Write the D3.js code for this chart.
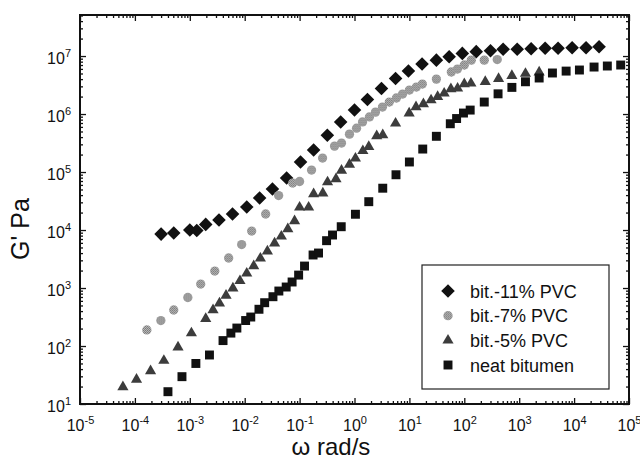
<!DOCTYPE html>
<meta charset="utf-8">
<style>
body { margin: 0; background: #fff; }
text { font-family: "Liberation Sans", Arial, sans-serif; fill: #111; }
</style>
<body>
<script src="https://d3js.org/d3.v7.min.js"></script>
<div id="chart"></div>
<script>

// bit.-11% PVC
var pvc11W = [3.0e-4, 5.1e-4, 1.0e-3, 1.34e-3, 1.95e-3, 3.4e-3, 6.0e-3, 1.09e-2, 1.87e-2, 3.2e-2, 5.8e-2, 0.104, 0.18, 0.32, 0.56, 1.0, 1.72, 3.1, 5.6, 9.6, 17, 31, 53, 92, 165, 300, 510, 920, 1650, 2970, 5100, 9200, 16500, 28500];
var pvc11G = [8.5e3, 8.9e3, 1.0e4, 9.8e3, 1.25e4, 1.49e4, 1.89e4, 2.5e4, 3.57e4, 5.1e4, 7.9e4, 1.49e5, 2.4e5, 4.3e5, 7.3e5, 1.17e6, 1.78e6, 2.75e6, 4.1e6, 5.5e6, 7.3e6, 8.5e6, 9.7e6, 1.11e7, 1.19e7, 1.23e7, 1.31e7, 1.31e7, 1.34e7, 1.36e7, 1.36e7, 1.39e7, 1.39e7, 1.45e7];

// bit.-7% PVC
var pvc7W = [1.65e-4, 2.97e-4, 5.1e-4, 9.2e-4, 1.58e-3, 2.85e-3, 5.1e-3, 8.8e-3, 1.34e-2, 2.41e-2, 4.15e-2, 7.5e-2, 0.1, 0.165, 0.262, 0.433, 0.58, 0.81, 1.09, 1.4, 1.87, 2.41, 3.23, 4.3, 5.8, 7.5, 10, 13.4, 17.2, 31, 58, 75, 100, 134, 231, 398];
var pvc7G = [189, 275, 418, 686, 1170, 1960, 3290, 5620, 9600, 1.89e4, 3.93e4, 6.46e4, 6.86e4, 1.08e5, 1.74e5, 2.8e5, 3.16e5, 4.5e5, 5.7e5, 7.3e5, 8.9e5, 1.08e6, 1.32e6, 1.61e6, 1.89e6, 2.21e6, 2.59e6, 2.92e6, 3.29e6, 4.0e6, 5.3e6, 5.97e6, 7.0e6, 8.5e6, 8.5e6, 8.7e6];

// bit.-5% PVC
var pvc5W = [6.05e-5, 1.07e-4, 1.93e-4, 3.37e-4, 6.1e-4, 1.07e-3, 1.95e-3, 2.65e-3, 3.47e-3, 4.57e-3, 6.1e-3, 8.2e-3, 1.09e-2, 1.46e-2, 1.93e-2, 2.59e-2, 3.5e-2, 4.65e-2, 6.1e-2, 8.1e-2, 0.1, 0.146, 0.18, 0.265, 0.323, 0.46, 0.58, 0.81, 1.04, 1.42, 1.82, 2.54, 3.27, 5.6, 9.9, 13.2, 18, 24.8, 32.7, 43, 57, 75.5, 100, 132, 241, 421, 736, 1300, 2310];
var pvc5G = [19.6, 26.4, 37, 56, 95, 167, 296, 418, 545, 743, 989, 1330, 1790, 2390, 3250, 4300, 5900, 7780, 1.04e4, 1.43e4, 2.46e4, 2.46e4, 4.18e4, 4.3e4, 6.7e4, 7.6e4, 1.06e5, 1.35e5, 1.72e5, 2.32e5, 2.73e5, 4.18e5, 4.34e5, 6.9e5, 1.03e6, 1.32e6, 1.49e6, 1.74e6, 1.99e6, 2.27e6, 2.7e6, 2.77e6, 3.29e6, 3.38e6, 3.6e6, 4.05e6, 4.56e6, 4.98e6, 5.26e6];

// neat bitumen
var neatW = [4.0e-4, 7.2e-4, 1.29e-3, 2.28e-3, 4.03e-3, 5.6e-3, 7.2e-3, 1.04e-2, 1.29e-2, 1.82e-2, 2.31e-2, 3.27e-2, 4.19e-2, 5.7e-2, 7.3e-2, 9.6e-2, 0.123, 0.176, 0.221, 0.31, 0.398, 0.573, 1.04, 1.82, 3.27, 5.7, 10, 17.5, 31, 55.6, 72.4, 96.6, 128, 231, 412, 736, 1300, 2310, 4030, 7160, 12500, 23100, 40300, 70600];
var neatG = [16.3, 29.6, 50, 70, 124, 167, 204, 275, 316, 430, 558, 708, 887, 1040, 1270, 1670, 2390, 3710, 4010, 6550, 8200, 1.14e4, 1.87e4, 3.08e4, 5.26e4, 8.97e4, 1.49e5, 2.49e5, 4.13e5, 6.8e5, 8.36e5, 1.04e6, 1.17e6, 1.61e6, 2.23e6, 2.88e6, 3.6e6, 4.18e6, 5.1e6, 5.5e6, 5.74e6, 6.46e6, 6.73e6, 7.0e6];

var seriesNames = ["bit.-11% PVC", "bit.-7% PVC", "bit.-5% PVC", "neat bitumen"];
var xDecades = [-5, -4, -3, -2, -1, 0, 1, 2, 3, 4, 5];
var yDecades = [1, 2, 3, 4, 5, 6, 7];

var margin = {top: 15, right: 11, bottom: 57, left: 80},
    width = 640 - margin.left - margin.right,
    height = 461 - margin.top - margin.bottom;

var x = d3.scaleLog().domain([1e-5, 1e5]).range([0, width]);
var y = d3.scaleLog().domain([10, 5.1e7]).range([height, 0]);

var svg = d3.select("#chart").append("svg")
    .attr("width", 640)
    .attr("height", 461);

// halftone look of the grey circles
var defs = svg.append("defs");
var pat = defs.append("pattern")
    .attr("id", "dots")
    .attr("width", 2).attr("height", 2)
    .attr("patternUnits", "userSpaceOnUse");
pat.append("rect").attr("width", 2).attr("height", 2).attr("fill", "#c4c4c4");
pat.append("rect").attr("width", 1).attr("height", 1).attr("fill", "#6a6a6a");
pat.append("rect").attr("x", 1).attr("y", 1).attr("width", 1).attr("height", 1).attr("fill", "#7a7a7a");

var g = svg.append("g").attr("transform", "translate(" + margin.left + "," + margin.top + ")");

// minor tick values
function minors(lo, hi) {
  var out = [];
  for (var e = lo; e < hi; e++) {
    for (var m = 2; m <= 9; m++) out.push(m * Math.pow(10, e));
  }
  return out;
}
var xMinor = minors(-5, 5);
var yMinor = minors(1, 8).filter(function(v) { return v <= 5.1e7; });
var xMajor = xDecades.map(function(e) { return Math.pow(10, e); });
var yMajor = yDecades.map(function(e) { return Math.pow(10, e); });

function drawTicks(axisFn, scale, vals, size, transform) {
  var a = g.append("g").attr("transform", transform)
    .call(axisFn(scale).tickValues(vals).tickSizeInner(-size).tickSizeOuter(0)
      .tickPadding(8).tickFormat(""));
  a.select(".domain").remove();
  a.selectAll("line").attr("stroke", "#111").attr("stroke-width", 1.3);
  return a;
}

drawTicks(d3.axisBottom, x, xMinor, 3, "translate(0," + height + ")");
drawTicks(d3.axisTop, x, xMinor, 3, "translate(0,0)");
drawTicks(d3.axisLeft, y, yMinor, 3, "translate(0,0)");
drawTicks(d3.axisRight, y, yMinor, 3, "translate(" + width + ",0)");
var xb = drawTicks(d3.axisBottom, x, xMajor, 6, "translate(0," + height + ")");
drawTicks(d3.axisTop, x, xMajor, 6, "translate(0,0)");
var yl = drawTicks(d3.axisLeft, y, yMajor, 6, "translate(0,0)");
drawTicks(d3.axisRight, y, yMajor, 6, "translate(" + width + ",0)");

// tick labels 10^n
xb.selectAll(".tick").each(function(d, i) {
  var t = d3.select(this).append("text")
    .attr("y", 27).attr("text-anchor", "middle")
    .style("font-size", "16px");
  t.append("tspan").text("10");
  t.append("tspan").attr("dy", -7).style("font-size", "11px").text(xDecades[i]);
});
yl.selectAll(".tick").each(function(d, i) {
  var t = d3.select(this).append("text")
    .attr("x", -9).attr("y", 7).attr("text-anchor", "end")
    .style("font-size", "16px");
  t.append("tspan").text("10");
  t.append("tspan").attr("dy", -7).style("font-size", "11px").text(yDecades[i]);
});

// frame
g.append("rect")
  .attr("width", width).attr("height", height)
  .attr("fill", "none").attr("stroke", "#111").attr("stroke-width", 2);

// axis titles
svg.append("text")
  .attr("x", 331).attr("y", 455)
  .attr("text-anchor", "middle").style("font-size", "24px")
  .text("ω rad/s");
svg.append("text")
  .attr("transform", "translate(29,229) rotate(-90)")
  .attr("text-anchor", "middle").style("font-size", "25px")
  .text("G' Pa");

var series = [
  {w: pvc11W, G: pvc11G, type: "diamond", fill: "#111"},
  {w: pvc7W, G: pvc7G, type: "circle", fill: "url(#dots)"},
  {w: pvc5W, G: pvc5G, type: "triangle", fill: "#3c3c3c"},
  {w: neatW, G: neatG, type: "square", fill: "#111"}
];

function symPath(type) {
  if (type === "diamond") return d3.symbol().type(d3.symbolSquare).size(92)();
  if (type === "circle") return d3.symbol().type(d3.symbolCircle).size(68)();
  if (type === "triangle") return d3.symbol().type(d3.symbolTriangle).size(54)();
  return d3.symbol().type(d3.symbolSquare).size(80)();
}
function symRot(type) { return type === "diamond" ? " rotate(45)" : ""; }

var plot = g.append("g");
series.forEach(function(s) {
  var pts = s.w.map(function(w, i) { return [w, s.G[i]]; });
  plot.selectAll(null).data(pts).enter().append("path")
    .attr("d", symPath(s.type))
    .attr("transform", function(d) {
      return "translate(" + x(d[0]) + "," + y(d[1]) + ")" + symRot(s.type);
    })
    .attr("fill", s.fill);
});

// legend
var lg = svg.append("g");
lg.append("rect")
  .attr("x", 422).attr("y", 265).attr("width", 187).attr("height", 124)
  .attr("fill", "#fff").attr("stroke", "#222").attr("stroke-width", 1.2);
var rowY = d3.scalePoint().domain(seriesNames).range([291, 365]);
series.forEach(function(s, i) {
  var cy = rowY(seriesNames[i]);
  lg.append("path")
    .attr("d", symPath(s.type))
    .attr("transform", "translate(448," + cy + ")" + symRot(s.type))
    .attr("fill", s.fill);
  lg.append("text")
    .attr("x", 470).attr("y", cy + 6.5)
    .style("font-size", "18px")
    .text(seriesNames[i]);
});

</script>
</body>
</html>
